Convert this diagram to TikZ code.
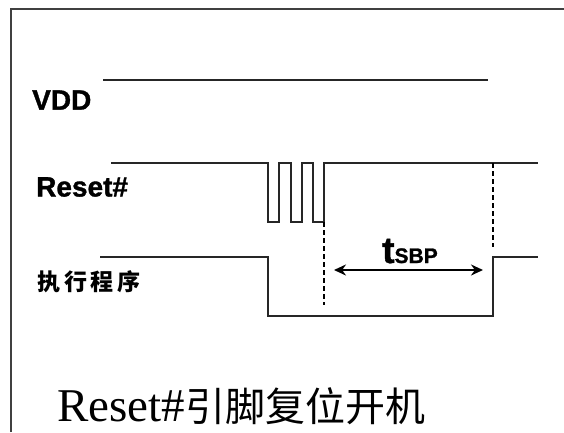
\documentclass[tikz,border=0pt]{standalone}
\usepackage{fontspec}
\setmainfont{Liberation Serif}
\newfontfamily\lsans[FakeBold=1.2]{Liberation Sans}
\newfontfamily\cjk{Noto Sans CJK SC}
\usetikzlibrary{arrows.meta}
\begin{document}
\begin{tikzpicture}[x=1pt,y=-1pt,
  wave/.style={line width=2pt,black!85},
  frameline/.style={line width=2pt,black!75},
  guide/.style={line width=1.5pt,dash pattern=on 5pt off 3pt},
  siglabel/.style={inner sep=0pt,font=\lsans\bfseries\fontsize{28}{28}\selectfont},
  cjklabel/.style={inner sep=0pt,font=\cjk\bfseries\fontsize{23}{23}\selectfont},
  span/.style={line width=2.2pt,{Stealth[length=12pt,width=11pt]}-{Stealth[length=12pt,width=11pt]}}
]
\useasboundingbox (0,0) rectangle (564,432);
% frame
\draw[frameline] (11,432) -- (11,9) -- (564,9);
% labels
\node[siglabel,anchor=west] (vdd) at (32,100) {VDD};
\node[siglabel,anchor=west] (rst) at (36,187) {Reset\#};
\node[cjklabel,anchor=west] (exe) at (37,282) {执\,行\,程\,序};
% VDD
\draw[wave] (103,80) -- (488,80);
% Reset# waveform
\draw[wave] (111,163) -- (268,163) -- (268,222) -- (279,222) -- (279,163)
  -- (291,163) -- (291,222) -- (302,222) -- (302,163) -- (313,163)
  -- (313,222) -- (324,222) -- (324,163) -- (538,163);
% program waveform
\draw[wave] (100,257) -- (268,257) -- (268,316) -- (493,316) -- (493,257) -- (538,257);
% guides
\coordinate (g1a) at (324,222); \coordinate (g1b) at (324,305);
\coordinate (g2a) at (493,163); \coordinate (g2b) at (493,247);
\draw[guide] (g1a) -- (g1b);
\draw[guide] (g2a) -- (g2b);
% span arrow
\coordinate (aL) at (334,270); \coordinate (aR) at (483,270);
\draw[span] (aL) -- (aR);
\node[inner sep=0pt,anchor=base] (tsbp) at (410,263)
  {\lsans\bfseries\fontsize{37}{37}\selectfont t\fontsize{21}{21}\selectfont SBP};
% title
\node[inner sep=0pt,anchor=base west] (title) at (57,421)
  {\fontsize{47}{47}\selectfont Reset\#\cjk\fontsize{40}{40}\selectfont 引脚复位开机};
\end{tikzpicture}
\end{document}
